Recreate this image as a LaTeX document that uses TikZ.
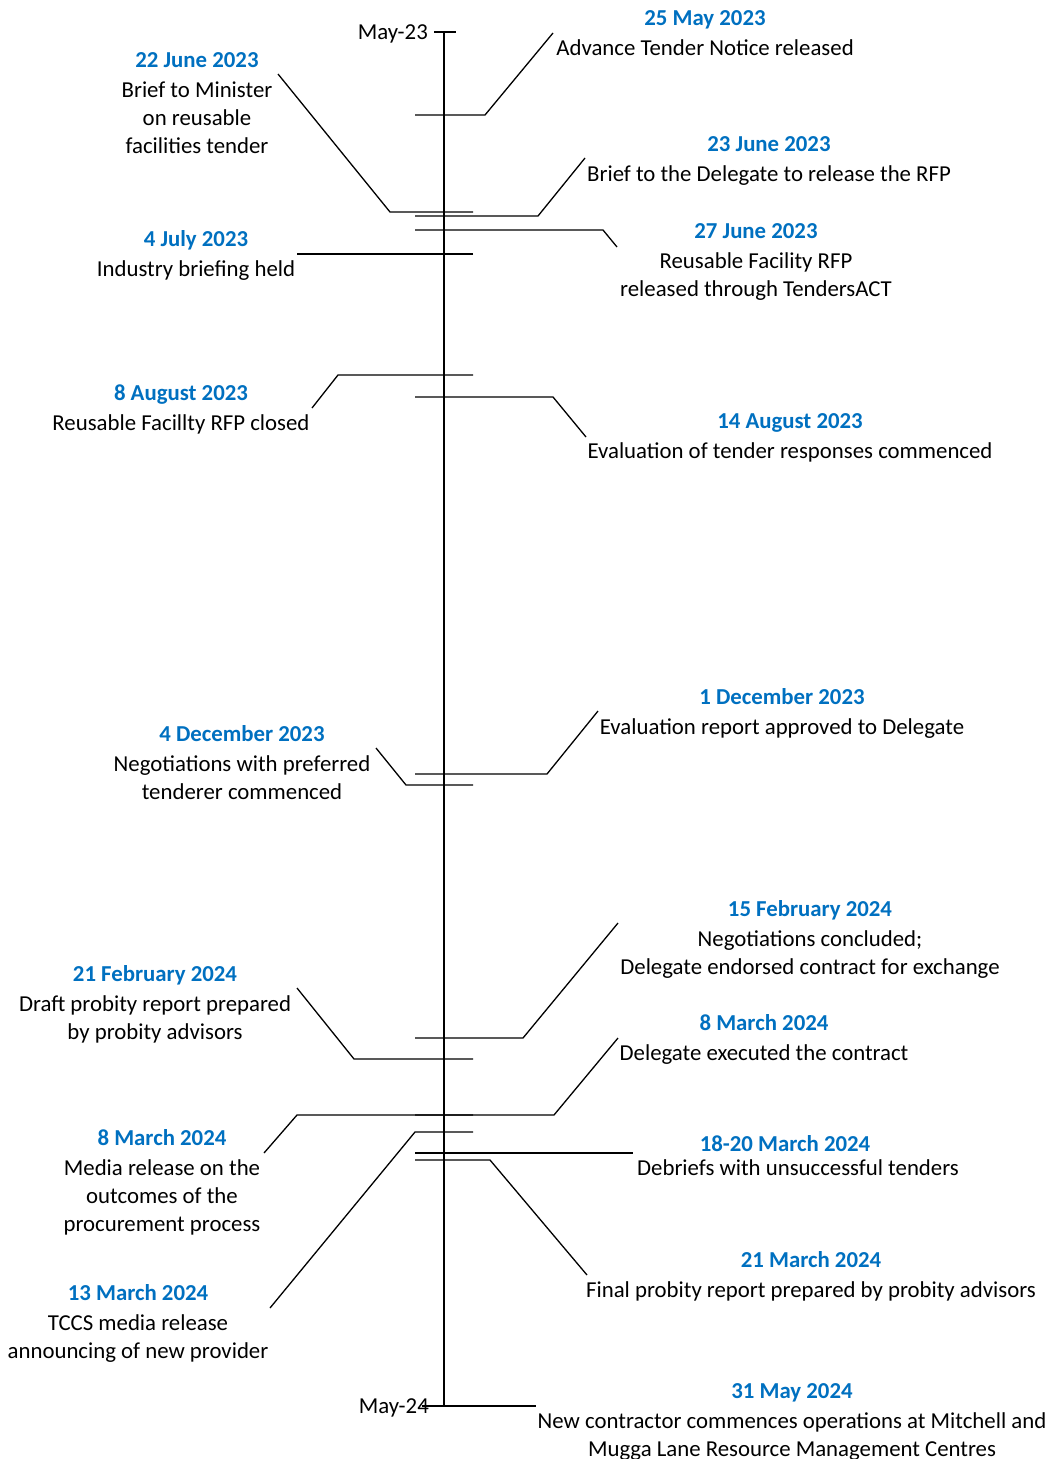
\documentclass[tikz,border=0pt]{standalone}
\usepackage{fontspec}
\setmainfont{Carlito}
\definecolor{dateblue}{HTML}{0070C0}
\newcommand{\dl}[1]{\rule{0pt}{17pt}{\color{dateblue}\bfseries #1}}
\begin{document}
\begin{tikzpicture}[x=1pt,y=-1pt,
  lead/.style={line width=1.3pt},
  evt/.style={align=center, font=\fontsize{22.8}{28}\selectfont, inner sep=0pt, anchor=north},
  single/.style={font=\fontsize{22.8}{28}\selectfont, inner sep=0pt, anchor=base},
]
\useasboundingbox (0,0) rectangle (1051,1459);

% axis
\coordinate (ax0) at (444,32);
\coordinate (ax1) at (444,1406);
\coordinate (tk0a) at (434,32);
\coordinate (tk0b) at (456,32);
\coordinate (tk1a) at (422,1406);
\coordinate (tk1b) at (536,1406);
\draw[lead] (ax0) -- (ax1);
\draw[lead] (tk0a) -- (tk0b);
\draw[lead] (tk1a) -- (tk1b);
\node[single, anchor=base east] (m23) at (428,39) {May-23};
\node[single, anchor=base east] (m24) at (429,1413) {May-24};

% event labels
\node[evt] (e1) at (705,8) {\dl{25 May 2023}\\[2pt]Advance Tender Notice released};
\node[evt] (e2) at (197,50) {\dl{22 June 2023}\\[2pt]Brief to Minister\\on reusable\\facilities tender};
\node[evt] (e3) at (769,134) {\dl{23 June 2023}\\[2pt]Brief to the Delegate to release the RFP};
\node[evt] (e4) at (756,221) {\dl{27 June 2023}\\[2pt]Reusable Facility RFP\\released through TendersACT};
\node[evt] (e5) at (196,229) {\dl{4 July 2023}\\[2pt]Industry briefing held};
\node[evt] (e6) at (181,383) {\dl{8 August 2023}\\[2pt]Reusable Facillty RFP closed};
\node[evt] (e7) at (790,411) {\dl{14 August 2023}\\[2pt]Evaluation of tender responses commenced};
\node[evt] (e8) at (782,687) {\dl{1 December 2023}\\[2pt]Evaluation report approved to Delegate};
\node[evt] (e9) at (242,724) {\dl{4 December 2023}\\[2pt]Negotiations with preferred\\tenderer commenced};
\node[evt] (e10) at (810,899) {\dl{15 February 2024}\\[2pt]Negotiations concluded;\\Delegate endorsed contract for exchange};
\node[evt] (e11) at (155,964) {\dl{21 February 2024}\\[2pt]Draft probity report prepared\\by probity advisors};
\node[evt] (e12) at (764,1013) {\dl{8 March 2024}\\[2pt]Delegate executed the contract};
\node[evt] (e13) at (162,1128) {\dl{8 March 2024}\\[2pt]Media release on the\\outcomes of the\\procurement process};
\node[single] (e14d) at (785,1151) {\color{dateblue}\bfseries 18-20 March 2024};
\node[single] (e14) at (798,1175) {Debriefs with unsuccessful tenders};
\node[evt] (e15) at (811,1250) {\dl{21 March 2024}\\[2pt]Final probity report prepared by probity advisors};
\node[evt] (e16) at (138,1283) {\dl{13 March 2024}\\[2pt]TCCS media release\\announcing of new provider};
\node[evt] (e17) at (792,1381) {\dl{31 May 2024}\\[2pt]New contractor commences operations at Mitchell and\\Mugga Lane Resource Management Centres};

% leaders
\coordinate (a1) at (415,115); \coordinate (b1) at (485,115); \coordinate (c1) at (553,33);
\draw[lead] (a1) -- (b1) -- (c1);
\coordinate (a2) at (473,212); \coordinate (b2) at (390,212); \coordinate (c2) at (278,74);
\draw[lead] (a2) -- (b2) -- (c2);
\coordinate (a3) at (415,216); \coordinate (b3) at (538,216); \coordinate (c3) at (585,158);
\draw[lead] (a3) -- (b3) -- (c3);
\coordinate (a4) at (415,230); \coordinate (b4) at (603,230); \coordinate (c4) at (617,247);
\draw[lead] (a4) -- (b4) -- (c4);
\coordinate (a5) at (473,254); \coordinate (b5) at (297,254);
\draw[lead] (a5) -- (b5);
\coordinate (a6) at (473,375); \coordinate (b6) at (338,375); \coordinate (c6) at (312,408);
\draw[lead] (a6) -- (b6) -- (c6);
\coordinate (a7) at (415,397); \coordinate (b7) at (553,397); \coordinate (c7) at (586,437);
\draw[lead] (a7) -- (b7) -- (c7);
\coordinate (a8) at (415,774); \coordinate (b8) at (547,774); \coordinate (c8) at (598,711);
\draw[lead] (a8) -- (b8) -- (c8);
\coordinate (a9) at (473,785); \coordinate (b9) at (406,785); \coordinate (c9) at (376,748);
\draw[lead] (a9) -- (b9) -- (c9);
\coordinate (a10) at (415,1038); \coordinate (b10) at (523,1038); \coordinate (c10) at (618,923);
\draw[lead] (a10) -- (b10) -- (c10);
\coordinate (a11) at (473,1059); \coordinate (b11) at (354,1059); \coordinate (c11) at (297,988);
\draw[lead] (a11) -- (b11) -- (c11);
\coordinate (a12) at (415,1115); \coordinate (b12) at (554,1115); \coordinate (c12) at (618,1038);
\draw[lead] (a12) -- (b12) -- (c12);
\coordinate (a13) at (473,1115); \coordinate (b13) at (297,1115); \coordinate (c13) at (264,1153);
\draw[lead] (a13) -- (b13) -- (c13);
\coordinate (a16) at (473,1132); \coordinate (b16) at (415,1132); \coordinate (c16) at (270,1308);
\draw[lead] (a16) -- (b16) -- (c16);
\coordinate (a14) at (415,1153); \coordinate (b14) at (633,1153);
\draw[lead] (a14) -- (b14);
\coordinate (a15) at (415,1160); \coordinate (b15) at (490,1160); \coordinate (c15) at (587,1275);
\draw[lead] (a15) -- (b15) -- (c15);
\end{tikzpicture}
\end{document}
